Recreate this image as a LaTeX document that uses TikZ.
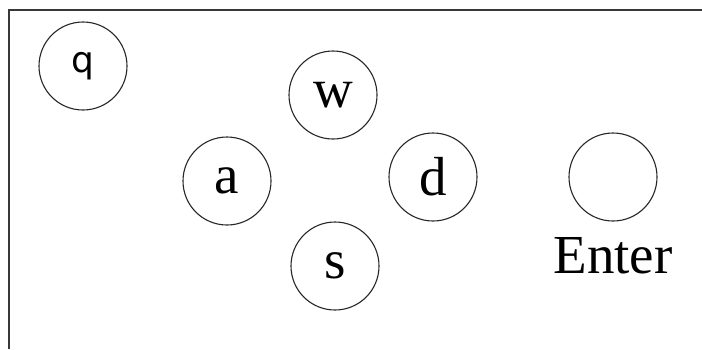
\documentclass[tikz,border=0pt]{standalone}
\usepackage{fontspec}
\setmainfont{Liberation Serif}
\newfontfamily\qfont{DejaVu Sans}
\usetikzlibrary{positioning}
\begin{document}
\begin{tikzpicture}[x=1pt,y=-1pt,line width=1.1pt,
  keycirc/.style={circle,draw=black!85,minimum size=88pt,inner sep=0pt,font=\fontsize{55}{60}\selectfont},
  keysans/.style={keycirc,font=\qfont\fontsize{36}{40}\selectfont}]
\useasboundingbox (0,0) rectangle (702,349);
% frame, cut off at right and bottom
\draw[line width=2.6pt,black!78] (9,349)--(9,10)--(702,10);
\node[keysans] (q) at (83,66) {q};
\node[keycirc] (w) at (333,95) {w};
\node[keycirc] (a) at (227,181) {a};
\node[keycirc] (d) at (433,177) {d};
\node[keycirc] (s) at (335,266) {s};
\node[keycirc] (enter) at (613,177) {};
\node[below=15pt of enter,inner sep=0pt,font=\fontsize{55}{60}\selectfont] (entertext) {Enter};
\end{tikzpicture}
\end{document}
